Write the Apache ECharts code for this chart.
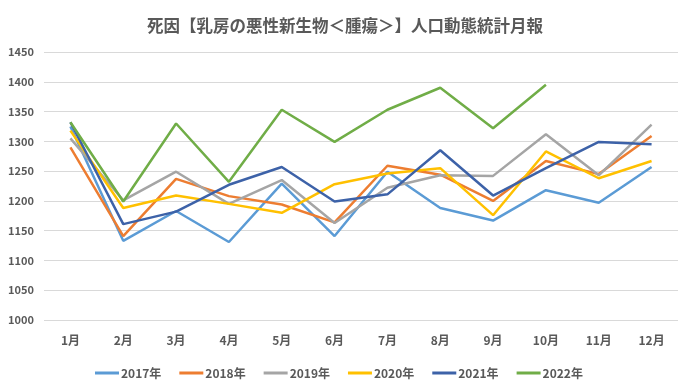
<!DOCTYPE html>
<html><head><meta charset="utf-8">
<script src="https://cdn.jsdelivr.net/npm/echarts@6/dist/echarts.min.js"></script>
<style>html,body{margin:0;padding:0;background:#fff}#c{width:690px;height:388px}</style>
</head><body><div id="c"></div>
<script>
const categories = ['1月','2月','3月','4月','5月','6月','7月','8月','9月','10月','11月','12月'];
const yTicks = [1000,1050,1100,1150,1200,1250,1300,1350,1400,1450];
const seriesNames = ['2017年','2018年','2019年','2020年','2021年','2022年'];
const s2017 = [1325,1133,1183,1131,1229,1141,1249,1188,1167,1218,1197,1257];
const s2018 = [1290,1141,1237,1208,1194,1164,1259,1244,1200,1267,1245,1309];
const s2019 = [1305,1201,1249,1195,1235,1163,1222,1243,1242,1312,1243,1328];
const s2020 = [1318,1188,1209,1195,1180,1228,1246,1255,1176,1283,1238,1267];
const s2021 = [1332,1161,1182,1227,1257,1199,1211,1285,1209,1255,1299,1295];
const s2022 = [1332,1199,1330,1232,1353,1299,1353,1390,1322,1395];
const colors = ['#5B9BD5','#ED7D31','#A5A5A5','#FFC000','#3D62A8','#70AD47'];
const data = [s2017,s2018,s2019,s2020,s2021,s2022];
const font = '"Noto Sans CJK JP", "Noto Sans", sans-serif';
const chart = echarts.init(document.getElementById('c'));
chart.setOption({
  animation:false,
  color: colors,
  title:{text:'死因【乳房の悪性新生物＜腫瘍＞】人口動態統計月報',left:'center',top:12,
    textStyle:{fontFamily:font,fontSize:16.5,fontWeight:'bold',color:'#595959'}},
  grid:{left:44,right:12,top:52,bottom:68},
  legend:{bottom:4,left:90,itemWidth:24,itemHeight:3,itemGap:18,icon:'rect',
    textStyle:{fontFamily:font,fontSize:12,fontWeight:'bold',color:'#595959',padding:[0,0,0,-3]},
    data:seriesNames},
  xAxis:{type:'category',data:categories,boundaryGap:true,
    axisLine:{show:false},axisTick:{show:false},
    axisLabel:{fontFamily:font,fontSize:12,fontWeight:'bold',color:'#595959',margin:14}},
  yAxis:{type:'value',min:yTicks[0],max:yTicks[yTicks.length-1],interval:50,
    axisLine:{show:false},axisTick:{show:false},
    splitLine:{lineStyle:{color:'#D9D9D9',width:1}},
    axisLabel:{fontFamily:font,fontSize:11,fontWeight:'bold',color:'#595959',margin:10,align:'right',
      formatter:v=>String(v)}},
  series: seriesNames.map((n,i)=>({name:n,type:'line',data:data[i],symbol:'none',
    lineStyle:{width:2.5,color:colors[i]},itemStyle:{color:colors[i]}}))
});
</script></body></html>
